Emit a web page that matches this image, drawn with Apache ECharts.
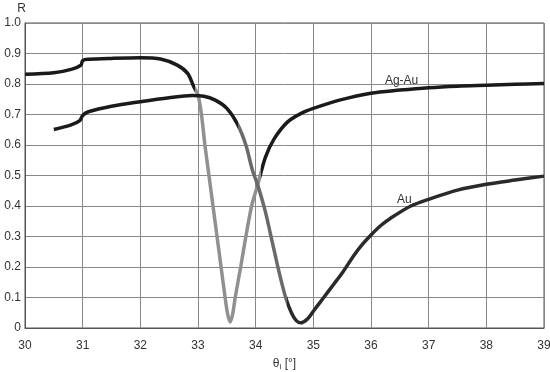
<!DOCTYPE html>
<html><head><meta charset="utf-8">
<script src="https://cdn.jsdelivr.net/npm/echarts@6/dist/echarts.min.js"></script>
<style>html,body{margin:0;padding:0;background:#fff}#c{width:550px;height:372px}</style>
</head><body><div id="c"></div>
<script>
var xTicks = [30, 31, 32, 33, 34, 35, 36, 37, 38, 39];
var yTicks = [0, 0.1, 0.2, 0.3, 0.4, 0.5, 0.6, 0.7, 0.8, 0.9, 1.0];

var agAuTheta = [30, 30.5, 30.8, 30.97, 31.0, 31.1, 31.5, 32, 32.35, 32.64, 32.82, 32.93, 33.0, 33.06, 33.12, 33.19, 33.26, 33.33, 33.40, 33.47, 33.51, 33.555, 33.6, 33.645, 33.74, 33.83, 33.93, 34.03, 34.17, 34.32, 34.55, 34.78, 35.0, 35.47, 36.0, 36.5, 37.0, 37.5, 38.0, 38.5, 39.0];
var agAuR     = [0.832, 0.837, 0.848, 0.862, 0.877, 0.881, 0.884, 0.886, 0.882, 0.862, 0.835, 0.79, 0.764, 0.70, 0.60, 0.50, 0.40, 0.30, 0.20, 0.10, 0.05, 0.02, 0.045, 0.10, 0.20, 0.30, 0.40, 0.466, 0.56, 0.62, 0.675, 0.703, 0.72, 0.748, 0.77, 0.78, 0.788, 0.793, 0.796, 0.799, 0.802];

var auTheta = [30.5, 30.8, 30.95, 31.0, 31.1, 31.5, 32, 32.5, 32.9, 33.1, 33.3, 33.5, 33.68, 33.83, 33.94, 34.04, 34.17, 34.29, 34.41, 34.52, 34.62, 34.7, 34.78, 34.9, 35.0, 35.12, 35.24, 35.36, 35.5, 35.7, 35.85, 36.0, 36.17, 36.34, 36.69, 37.0, 37.5, 38.0, 38.5, 39.0];
var auR     = [0.651, 0.666, 0.68, 0.697, 0.709, 0.727, 0.742, 0.755, 0.762, 0.760, 0.747, 0.72, 0.67, 0.60, 0.52, 0.466, 0.38, 0.28, 0.18, 0.10, 0.05, 0.025, 0.017, 0.03, 0.055, 0.085, 0.115, 0.145, 0.18, 0.237, 0.274, 0.305, 0.336, 0.36, 0.40, 0.422, 0.452, 0.471, 0.485, 0.498];

var seriesNames = ['Ag-Au', 'Au'];

function zip(a, b) { return a.map(function (v, i) { return [v, b[i]]; }); }

var chart = echarts.init(document.getElementById('c'), null, {renderer: 'canvas'});
var font = 'Liberation Sans, Arial, sans-serif';
chart.setOption({
  animation: false,
  backgroundColor: '#fff',
  grid: {left: 25, right: 6, top: 23, bottom: 44, show: true, borderColor: '#555', borderWidth: 1,
    containLabel: false, outerBoundsMode: 'none'},
  xAxis: {
    type: 'value', min: xTicks[0], max: xTicks[xTicks.length - 1], interval: 1,
    name: 'θ{s|i} [°]', nameLocation: 'middle', nameGap: 29,
    nameTextStyle: {fontFamily: font, fontSize: 12, color: '#333', rich: {s: {fontSize: 8, verticalAlign: 'bottom', padding: [6, 0, 0, 0], fontFamily: font, color: '#333'}}},
    axisLine: {show: true, lineStyle: {color: '#555', width: 1}},
    axisTick: {show: false},
    axisLabel: {fontFamily: font, fontSize: 12, color: '#333', margin: 12},
    splitLine: {show: true, lineStyle: {color: '#888', width: 1}}
  },
  yAxis: {
    type: 'value', min: 0, max: 1, interval: 0.1,
    name: 'R', nameLocation: 'end', nameGap: 8,
    nameTextStyle: {fontFamily: font, fontSize: 12, color: '#333', align: 'right', padding: [0, -1, 0, 0]},
    axisLine: {show: true, lineStyle: {color: '#555', width: 1}},
    axisTick: {show: false},
    axisLabel: {fontFamily: font, fontSize: 12, color: '#333', margin: 4, padding: [3, 0, 0, 0],
      formatter: function (v) { return v === 0 ? '0' : v.toFixed(1); }},
    splitLine: {show: true, lineStyle: {color: '#888', width: 1}}
  },
  visualMap: [
    {type: 'piecewise', show: false, seriesIndex: 0, dimension: 0,
      pieces: [{lt: 32.95, color: '#1a1a1a'}, {gte: 32.95, lt: 34.1, color: '#909090'}, {gte: 34.1, color: '#1a1a1a'}]},
    {type: 'piecewise', show: false, seriesIndex: 1, dimension: 0,
      pieces: [{lt: 33.7, color: '#1a1a1a'}, {gte: 33.7, lt: 34.55, color: '#6a6a6a'}, {gte: 34.55, color: '#2a2a2a'}]}
  ],
  series: [
    {name: seriesNames[0], type: 'line', data: zip(agAuTheta, agAuR), showSymbol: false, smooth: 0.3,
      lineStyle: {width: 3.5},
      markPoint: {symbol: 'circle', symbolSize: 0, silent: true,
        label: {show: true, formatter: seriesNames[0], fontFamily: font, fontSize: 12, color: '#333'},
        data: [{coord: [36.53, 0.81]}]}},
    {name: seriesNames[1], type: 'line', data: zip(auTheta, auR), showSymbol: false, smooth: 0.3,
      lineStyle: {width: 3.5},
      markPoint: {symbol: 'circle', symbolSize: 0, silent: true,
        label: {show: true, formatter: seriesNames[1], fontFamily: font, fontSize: 12, color: '#333'},
        data: [{coord: [36.58, 0.42]}]}}
  ]
});
</script></body></html>
